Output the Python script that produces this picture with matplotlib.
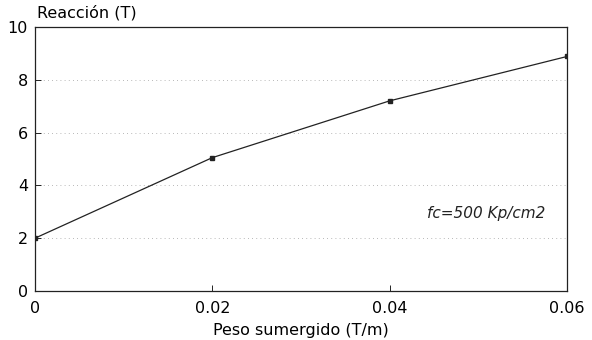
import matplotlib
matplotlib.use("Agg")
import matplotlib.pyplot as plt

# datos
peso = [0.0, 0.02, 0.04, 0.06]
reaccion = [2.0, 5.05, 7.2, 8.88]
xticks = [0, 0.02, 0.04, 0.06]
xticklabels = ["0", "0.02", "0.04", "0.06"]
yticks = [0, 2, 4, 6, 8, 10]

plt.rcParams["font.family"] = ["DejaVu Sans"]

fig = plt.figure(figsize=(5.92, 3.4), dpi=100)
ax = fig.add_axes([0.059, 0.144, 0.899, 0.777])

ax.plot(peso, reaccion, color="#222222", linewidth=0.9, marker="s", markersize=2.2)

ax.set_xlim(0, 0.06)
ax.set_ylim(0, 10)
ax.set_xticks(xticks)
ax.set_xticklabels(xticklabels)
ax.set_yticks(yticks)
ax.tick_params(direction="in", length=4, width=0.6, labelsize=11.5, pad=7)
ax.tick_params(axis="y", pad=5)

for s in ax.spines.values():
    s.set_linewidth(0.9)
    s.set_color("#222222")

# lineas de rejilla punteadas y tenues (escaneo)
ax.grid(axis="y", linestyle=(0, (1, 4)), color="#a0a0a0", linewidth=0.6)

ax.text(0.0575, 2.95, "fc=500 Kp/cm2", style="italic", fontsize=11,
        ha="right", va="center", color="#222222")

fig.text(0.063, 0.962, "Reacción (T)", fontsize=11.5, ha="left", va="center")
ax.set_xlabel("Peso sumergido (T/m)", fontsize=11.5, labelpad=5)

fig.savefig("out.png", dpi=100)
